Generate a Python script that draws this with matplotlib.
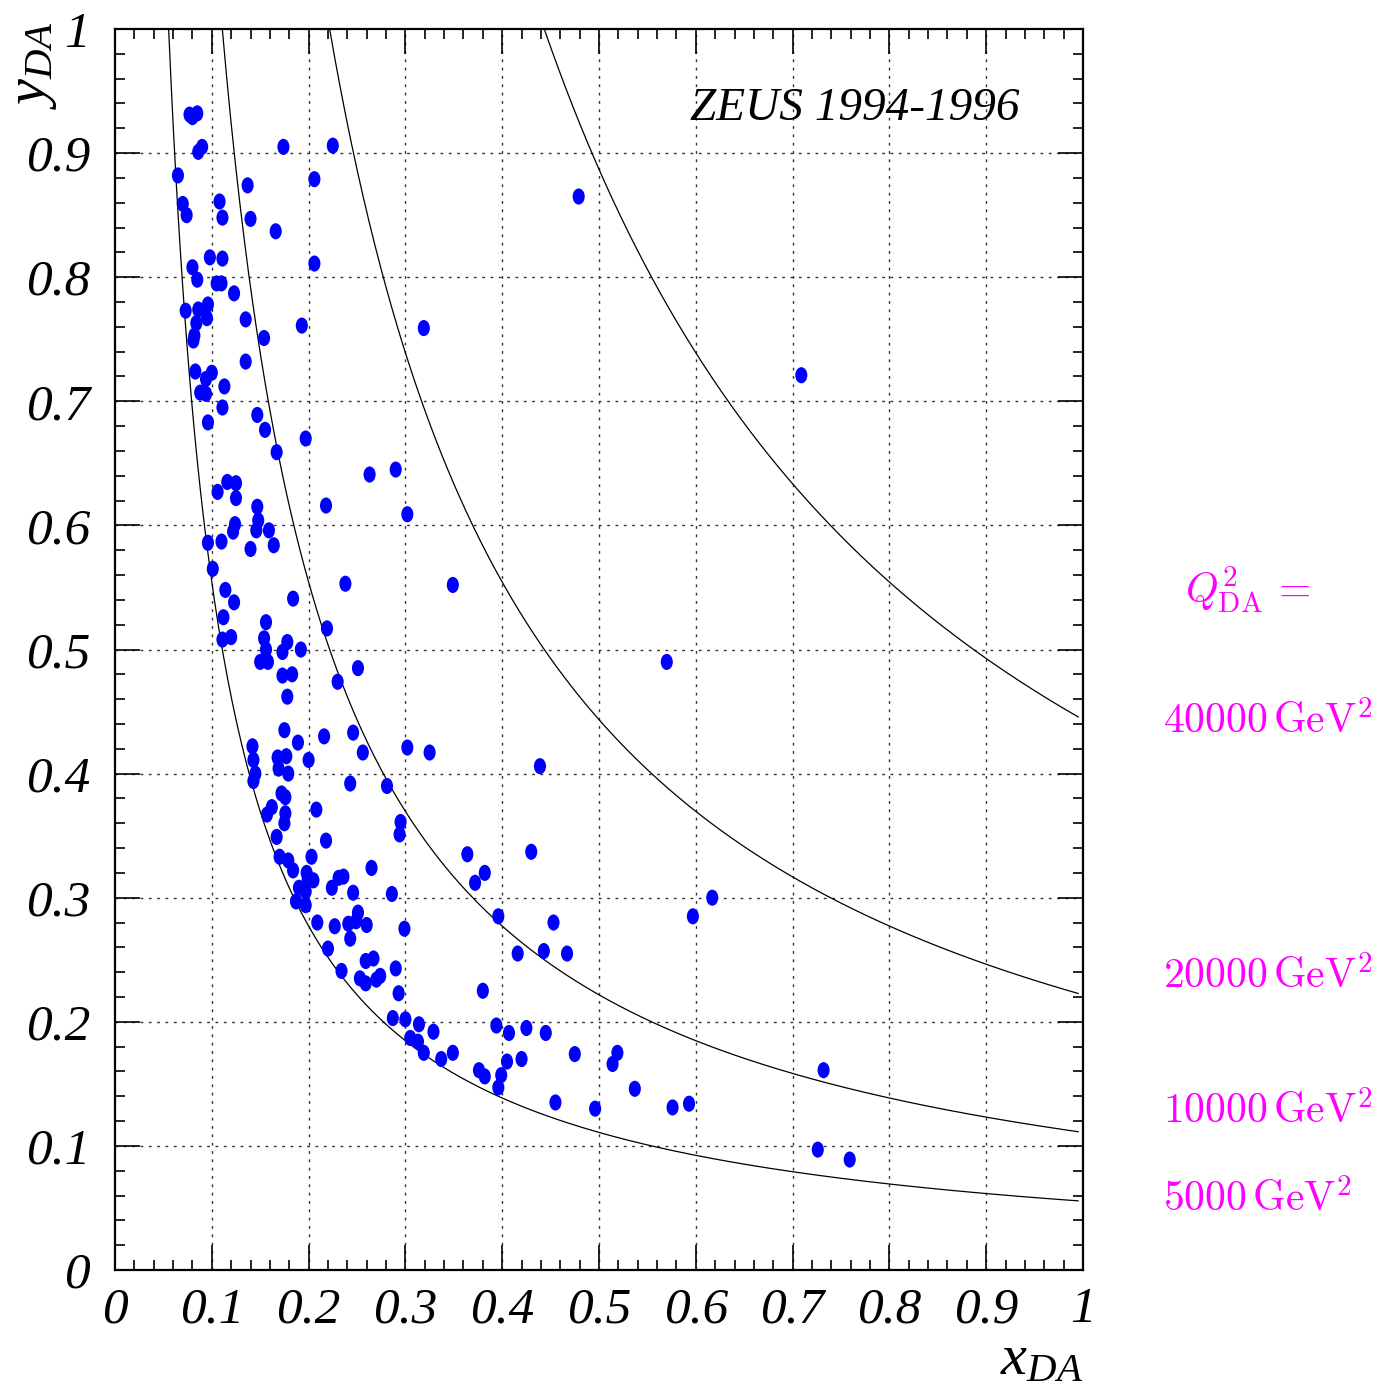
import numpy as np
import matplotlib
matplotlib.use("Agg")
import matplotlib.pyplot as plt
from matplotlib.path import Path
from matplotlib.transforms import Affine2D
from matplotlib.ticker import MultipleLocator, FixedLocator, FixedFormatter

# ---------------- data ----------------
x_da = [0.077, 0.080, 0.085, 0.086, 0.090, 0.065, 0.070, 0.074, 0.108, 0.111,
        0.137, 0.140, 0.174, 0.225, 0.206, 0.166, 0.206, 0.098, 0.111, 0.080,
        0.085, 0.105, 0.110, 0.123, 0.073, 0.086, 0.096, 0.095, 0.084, 0.082,
        0.081, 0.135, 0.154, 0.193, 0.319, 0.135, 0.083, 0.100, 0.094, 0.113,
        0.088, 0.094, 0.111, 0.096, 0.147, 0.155, 0.197, 0.167, 0.263, 0.116,
        0.125, 0.106, 0.125, 0.218, 0.147, 0.148, 0.124, 0.122, 0.146, 0.159,
        0.096, 0.110, 0.140, 0.164, 0.101, 0.114, 0.238, 0.290, 0.349, 0.302,
        0.479, 0.709, 0.570, 0.123, 0.184, 0.112, 0.156, 0.111, 0.120, 0.154,
        0.178, 0.173, 0.192, 0.156, 0.219, 0.150, 0.158, 0.251, 0.173, 0.183,
        0.230, 0.178, 0.175, 0.189, 0.216, 0.246, 0.256, 0.142, 0.143, 0.168,
        0.177, 0.200, 0.169, 0.179, 0.145, 0.143, 0.243, 0.172, 0.176, 0.208,
        0.162, 0.157, 0.176, 0.175, 0.325, 0.302, 0.439, 0.281, 0.167, 0.218,
        0.170, 0.179, 0.203, 0.184, 0.265, 0.198, 0.199, 0.205, 0.231, 0.236,
        0.190, 0.197, 0.224, 0.246, 0.286, 0.187, 0.197, 0.251, 0.249, 0.241,
        0.260, 0.209, 0.227, 0.299, 0.243, 0.220, 0.259, 0.267, 0.290, 0.234,
        0.253, 0.259, 0.270, 0.274, 0.293, 0.287, 0.300, 0.314, 0.329, 0.305,
        0.313, 0.319, 0.337, 0.349, 0.295, 0.294, 0.364, 0.430, 0.382, 0.372,
        0.617, 0.396, 0.453, 0.597, 0.416, 0.443, 0.467, 0.380, 0.394, 0.407,
        0.425, 0.445, 0.376, 0.382, 0.405, 0.420, 0.399, 0.396, 0.475, 0.519,
        0.514, 0.537, 0.455, 0.496, 0.576, 0.593, 0.732, 0.726, 0.759]
y_da = [0.931, 0.929, 0.932, 0.901, 0.905, 0.882, 0.859, 0.850, 0.861, 0.848,
        0.874, 0.847, 0.905, 0.906, 0.879, 0.837, 0.811, 0.816, 0.815, 0.808,
        0.798, 0.795, 0.795, 0.787, 0.773, 0.774, 0.778, 0.767, 0.763, 0.753,
        0.749, 0.766, 0.751, 0.761, 0.759, 0.732, 0.724, 0.723, 0.718, 0.712,
        0.707, 0.706, 0.695, 0.683, 0.689, 0.677, 0.670, 0.659, 0.641, 0.635,
        0.634, 0.627, 0.622, 0.616, 0.615, 0.604, 0.601, 0.595, 0.596, 0.596,
        0.586, 0.587, 0.581, 0.584, 0.565, 0.548, 0.553, 0.645, 0.552, 0.609,
        0.865, 0.721, 0.490, 0.538, 0.541, 0.526, 0.522, 0.508, 0.510, 0.509,
        0.506, 0.498, 0.500, 0.500, 0.517, 0.490, 0.490, 0.485, 0.479, 0.480,
        0.474, 0.462, 0.435, 0.425, 0.430, 0.433, 0.417, 0.422, 0.411, 0.413,
        0.414, 0.411, 0.404, 0.400, 0.400, 0.394, 0.392, 0.384, 0.381, 0.371,
        0.373, 0.367, 0.368, 0.360, 0.417, 0.421, 0.406, 0.390, 0.349, 0.346,
        0.333, 0.330, 0.333, 0.322, 0.324, 0.320, 0.314, 0.314, 0.316, 0.317,
        0.308, 0.305, 0.308, 0.304, 0.303, 0.297, 0.294, 0.288, 0.281, 0.279,
        0.278, 0.280, 0.277, 0.275, 0.267, 0.259, 0.249, 0.251, 0.243, 0.241,
        0.235, 0.231, 0.234, 0.237, 0.223, 0.203, 0.202, 0.198, 0.192, 0.187,
        0.184, 0.175, 0.170, 0.175, 0.361, 0.351, 0.335, 0.337, 0.320, 0.312,
        0.300, 0.285, 0.280, 0.285, 0.255, 0.257, 0.255, 0.225, 0.197, 0.191,
        0.195, 0.191, 0.161, 0.156, 0.168, 0.170, 0.157, 0.147, 0.174, 0.175,
        0.166, 0.146, 0.135, 0.130, 0.131, 0.134, 0.161, 0.097, 0.089]

q2_values = [5000, 10000, 20000, 40000]          # GeV^2
q2_labels = ["5000", "10000", "20000", "40000"]
s_cm = 90200.0                                   # GeV^2 (4 * 820 * 27.5)
tick_vals = [0, 0.1, 0.2, 0.3, 0.4, 0.5, 0.6, 0.7, 0.8, 0.9, 1]
tick_labels = ["0", "0.1", "0.2", "0.3", "0.4", "0.5", "0.6", "0.7", "0.8", "0.9", "1"]

# ---------------- style ----------------
plt.rcParams['font.family'] = ['Liberation Serif', 'DejaVu Serif']
plt.rcParams['mathtext.fontset'] = 'custom'
plt.rcParams['mathtext.rm'] = 'Liberation Serif'
plt.rcParams['mathtext.it'] = 'Liberation Serif:italic'

fig = plt.figure(figsize=(13.91, 13.91), dpi=100)
ax = fig.add_axes([115/1391, 121/1391, 968/1391, 1241/1391])
ax.set_xlim(0, 1)
ax.set_ylim(0, 1)

# grid
for v in tick_vals[1:-1]:
    ax.axvline(v, color='#333333', lw=1.0, ls=(0, (2, 4)), zorder=1)
    ax.axhline(v, color='#333333', lw=1.0, ls=(0, (2, 4)), zorder=1)

# Q^2 curves
for q2 in q2_values:
    xs = np.linspace(q2 / s_cm, 0.995, 400)
    ax.plot(xs, q2 / (s_cm * xs), color='black', lw=0.9, zorder=2)

# elliptical marker
ell = Path.unit_circle().transformed(Affine2D().scale(0.75, 1.0))
ax.scatter(x_da, y_da, s=135, marker=ell, color='#0000FF', edgecolors='none', zorder=3)

# ticks
for axis in (ax.xaxis, ax.yaxis):
    axis.set_major_locator(FixedLocator(tick_vals))
    axis.set_major_formatter(FixedFormatter(tick_labels))
    axis.set_minor_locator(MultipleLocator(0.02))
ax.tick_params(which='both', direction='in', top=True, right=True, width=1.2, color='black')
ax.tick_params(which='major', length=18)
ax.tick_params(which='minor', length=7)
ax.tick_params(axis='x', which='major', pad=12, labelsize=37)
ax.tick_params(axis='y', which='major', pad=18, labelsize=37)
for lab in ax.get_xticklabels() + ax.get_yticklabels():
    lab.set_fontstyle('italic')
for sp in ax.spines.values():
    sp.set_linewidth(1.6)

# axis labels
fig.text(1083/1391, 1 - 1360/1391, r'$x_{DA}$', ha='right', va='center', fontsize=42)
fig.text(33/1391, 1 - 65/1391, r'$y_{DA}$', ha='center', va='center', fontsize=42, rotation=90)

# title
ax.text(0.764, 0.936, 'ZEUS 1994-1996', transform=ax.transAxes, ha='center', va='center',
        fontsize=34, style='italic')

# Q^2 labels on the right
mag = '#FF00FF'
fig.text(1248/1391, 1 - 590/1391, r'$Q^2_{\rm DA}\, =$', ha='center', va='center',
         fontsize=30, color=mag, math_fontfamily='cm')
label_y = {"40000": 722, "20000": 977, "10000": 1112, "5000": 1200}
for lab in q2_labels:
    fig.text(1163/1391, 1 - label_y[lab]/1391, r'$%s\,\mathrm{GeV}^2$' % lab,
             ha='left', va='center', fontsize=30, color=mag, math_fontfamily='cm')

fig.savefig('out.png', dpi=100)
